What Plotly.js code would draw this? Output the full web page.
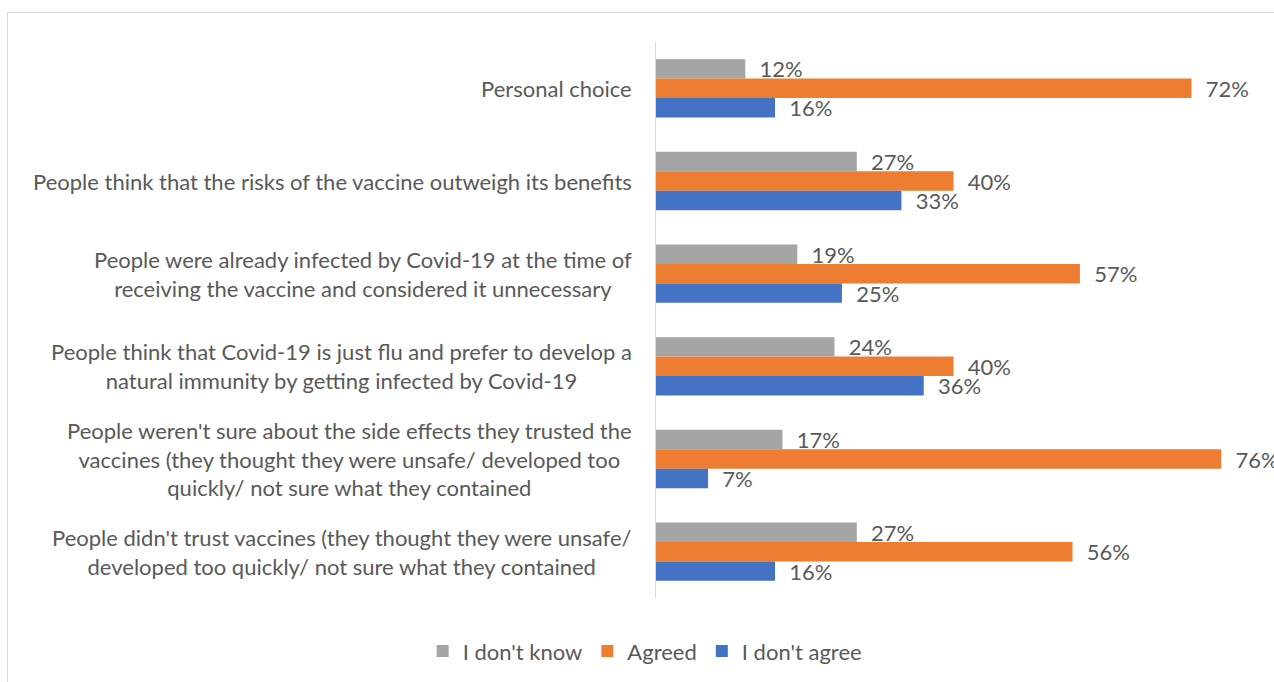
<!DOCTYPE html>
<html>
<head>
<meta charset="utf-8">
<script src="https://cdn.plot.ly/plotly-3.0.1.min.js"></script>
<style>
  html, body { margin: 0; padding: 0; background: #ffffff; }
  #wrap { position: relative; width: 1274px; height: 682px; overflow: hidden; }
  #frame { position: absolute; left: 7px; top: 12px; width: 2000px; height: 2000px; border: 1px solid #d9d9d9; box-sizing: border-box; }
  #chart { position: absolute; left: 0; top: 0; width: 1274px; height: 682px; }
</style>
</head>
<body>
<div id="wrap">
  <div id="frame"></div>
  <div id="chart"></div>
</div>
<script>
const categories = [
  "Personal choice",
  "People think that the risks of the vaccine outweigh its benefits",
  "People were already infected by Covid-19 at the time of<br>receiving the vaccine and considered it unnecessary",
  "People think that Covid-19 is just flu and prefer to develop a<br>natural immunity by getting infected by Covid-19",
  "People weren't sure about the side effects they trusted the<br>vaccines (they thought they were unsafe/ developed too<br>quickly/ not sure what they contained",
  "People didn't trust vaccines (they thought they were unsafe/<br>developed too quickly/ not sure what they contained"
];
const seriesNames = ["I don't know", "Agreed", "I don't agree"];
const dontKnow = [12, 27, 19, 24, 17, 27];
const agreed = [72, 40, 57, 40, 76, 56];
const dontAgree = [16, 33, 25, 36, 7, 16];
const colors = ["#A5A5A5", "#ED7D31", "#4472C4"];

const FONT = "Lato, 'Open Sans', sans-serif";
const TXT = "#595959";
const ids = categories.map((c, i) => "c" + i);

const values = [dontKnow, agreed, dontAgree];
const traces = values.map((v, k) => ({
  type: "bar",
  orientation: "h",
  name: seriesNames[k],
  y: ids,
  x: v,
  marker: { color: colors[k] },
  texttemplate: "\u00a0\u00a0%{x}%",
  textposition: "outside",
  constraintext: "none",
  cliponaxis: false,
  textfont: { family: FONT, size: 22, color: TXT },
  hoverinfo: "skip"
}));

const annotations = categories.map((c, i) => ({
  text: c,
  xref: "paper",
  yref: "y",
  x: 0,
  y: ids[i],
  xanchor: "right",
  yanchor: "middle",
  xshift: -22,
  align: "center",
  showarrow: false,
  font: { family: FONT, size: 22, color: TXT }
}));

const layout = {
  width: 1274,
  height: 682,
  margin: { l: 656, r: 23, t: 42, b: 84 },
  paper_bgcolor: "rgba(0,0,0,0)",
  plot_bgcolor: "rgba(0,0,0,0)",
  barmode: "group",
  bargap: 0.37,
  bargroupgap: 0,
  font: { family: FONT, size: 22, color: TXT },
  xaxis: {
    range: [0, 80],
    showticklabels: false,
    showgrid: false,
    zeroline: false,
    showline: false,
    fixedrange: true
  },
  yaxis: {
    type: "category",
    autorange: "reversed",
    showticklabels: false,
    showgrid: false,
    zeroline: false,
    showline: true,
    linecolor: "#d9d9d9",
    linewidth: 1,
    ticks: "",
    fixedrange: true
  },
  legend: {
    orientation: "h",
    xref: "container",
    yref: "container",
    x: 0.506,
    xanchor: "center",
    y: 0.045,
    yanchor: "middle",
    font: { family: FONT, size: 22, color: TXT },
    itemclick: false,
    traceorder: "normal"
  },
  annotations: annotations,
  showlegend: true
};

Plotly.newPlot("chart", traces, layout, { displayModeBar: false, staticPlot: true });
</script>
</body>
</html>
